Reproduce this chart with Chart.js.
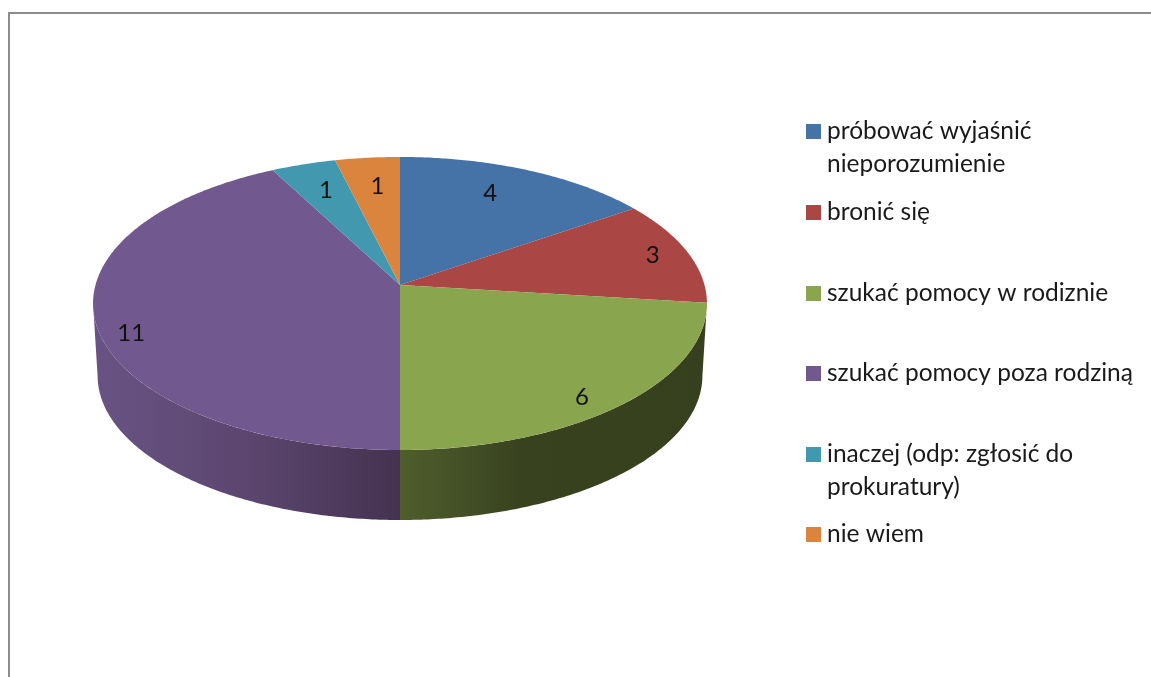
<!DOCTYPE html>
<html lang="pl">
<head>
<meta charset="utf-8">
<title>Wykres</title>
<script src="https://cdn.jsdelivr.net/npm/chart.js@4"></script>
<style>
    html, body { margin: 0; padding: 0; background: #fff; overflow: hidden; }
    #frame { position: absolute; left: 8px; top: 12px; width: 1300px; height: 900px; border-left: 2px solid #8c8c8c; border-top: 2px solid #8c8c8c; }
    #wrap { position: absolute; left: 0; top: 0; width: 1151px; height: 677px; filter: blur(0.4px); }
</style>
</head>
<body>
<div id="frame"></div>
<div id="wrap"><canvas id="pie"></canvas></div>
<script>
const categories = [
    ['próbować wyjaśnić', 'nieporozumienie'],
    ['bronić się'],
    ['szukać pomocy w rodiznie'],
    ['szukać pomocy poza rodziną'],
    ['inaczej (odp: zgłosić do', 'prokuratury)'],
    ['nie wiem']
];
const values = [4, 3, 6, 11, 1, 1];
const colors = ['#4572A7', '#AA4643', '#89A54E', '#71588F', '#4198AF', '#DB843D'];

// where the value labels sit inside their slices
const labelRadius = [0.765, 0.877, 0.893, 0.906, 0.765, 0.757];
const labelTurn = [-2.8, 0, 4, -7, 0.5, 0.75];

// legend text baselines, first line of each entry
const legendBaselines = [139, 220, 301, 381, 462, 542];

// perspective of the tilted pie
const top3d = { x: 400, y: 285, a: 304.5, b: 144.2 };
const bottom3d = { x: 400, y: 357.5, a: 300, b: 142 };
const persp = 0.126;

function project(face, angle) {
    const u = Math.cos(angle), v = Math.sin(angle);
    const w = 1 - persp * v;
    return { x: face.x + face.a * u / w, y: face.y + face.b * v / w };
}

function traceRim(ctx, face, from, to) {
    const steps = Math.max(2, Math.ceil(Math.abs(to - from) / 0.01));
    for (let i = 0; i <= steps; i++) {
        const p = project(face, from + (to - from) * i / steps);
        ctx.lineTo(p.x, p.y);
    }
}

function sideFill(ctx, index) {
    const g = ctx.createLinearGradient(93, 0, 708, 0);
    if (index === 3) {
        g.addColorStop(0, '#685384');
        g.addColorStop(0.25, '#5c466f');
        g.addColorStop(0.5, '#443250');
    } else {
        g.addColorStop(0.5, '#4f5e2c');
        g.addColorStop(0.7, '#38421f');
        g.addColorStop(1, '#36401e');
    }
    return g;
}

const pie3d = {
    id: 'pie3d',
    beforeDatasetsDraw(chart) {
        const ctx = chart.ctx;
        const arcs = chart.getDatasetMeta(0).data;
        const tangent = Math.asin(persp);

        // side wall, only the part facing the viewer
        ctx.save();
        arcs.forEach((arc, i) => {
            const norm = a => ((a % (Math.PI * 2)) + Math.PI * 2) % (Math.PI * 2);
            const s = norm(arc.startAngle);
            const e = s + (arc.endAngle - arc.startAngle);
            const from = Math.max(s, tangent);
            const to = Math.min(e, Math.PI - tangent);
            if (to <= from) return;
            ctx.beginPath();
            traceRim(ctx, top3d, from, to);
            traceRim(ctx, bottom3d, to, from);
            ctx.closePath();
            ctx.fillStyle = sideFill(ctx, i);
            ctx.fill();
        });

        // top face
        arcs.forEach((arc, i) => {
            ctx.beginPath();
            ctx.moveTo(top3d.x, top3d.y);
            traceRim(ctx, top3d, arc.startAngle, arc.endAngle);
            ctx.closePath();
            ctx.fillStyle = colors[i];
            ctx.fill();
        });

        // value labels
        ctx.fillStyle = '#111';
        ctx.font = '24px Lato';
        ctx.textAlign = 'center';
        ctx.textBaseline = 'middle';
        arcs.forEach((arc, i) => {
            const mid = (arc.startAngle + arc.endAngle) / 2 + labelTurn[i] * Math.PI / 180;
            const r = labelRadius[i];
            const w = 1 - persp * r * Math.sin(mid);
            ctx.fillText(values[i], top3d.x + top3d.a * r * Math.cos(mid) / w, top3d.y + top3d.b * r * Math.sin(mid) / w);
        });
        ctx.restore();
        return false;
    },
    afterDraw(chart) {
        const ctx = chart.ctx;
        ctx.save();
        ctx.font = '24.5px Lato';
        ctx.textAlign = 'left';
        ctx.textBaseline = 'alphabetic';
        categories.forEach((lines, i) => {
            const base = legendBaselines[i];
            ctx.fillStyle = colors[i];
            ctx.fillRect(806, base - 15, 15, 15);
            ctx.fillStyle = '#1a1a1a';
            lines.forEach((line, n) => ctx.fillText(line, 827, base + n * 32.5));
        });
        ctx.restore();
    }
};

new Chart(document.getElementById('pie'), {
    type: 'pie',
    data: {
        labels: categories,
        datasets: [{ data: values, backgroundColor: colors, borderWidth: 0 }]
    },
    options: {
        responsive: true,
        maintainAspectRatio: false,
        animation: false,
        plugins: {
            legend: { display: false },
            tooltip: { enabled: false }
        }
    },
    plugins: [pie3d]
});
</script>
</body>
</html>
